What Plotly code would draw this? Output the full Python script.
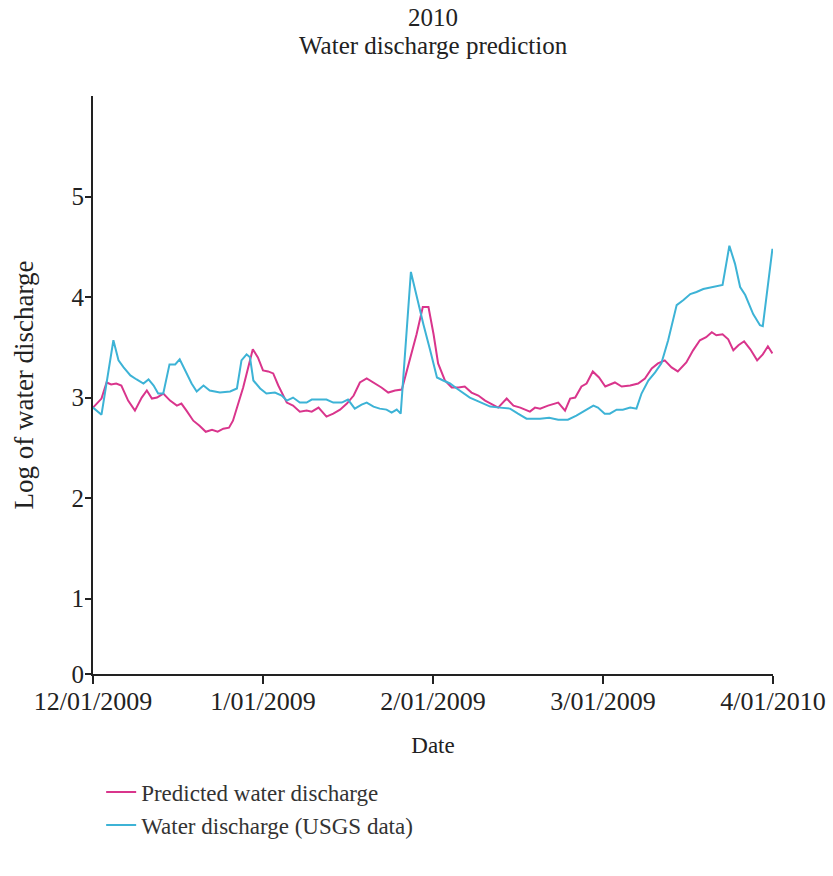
import plotly.graph_objects as go

# Day offsets from 12/01/2009 (x-axis spans 0..120)
days_pred = [0, 1.5, 2.4, 3.2, 4.1, 5.0, 6.2, 7.4, 8.6, 9.5, 10.4, 11.3, 12.4, 13.6, 14.8, 15.6, 16.5,
             17.7, 18.8, 19.9, 21.0, 22.0, 23.0, 24.0, 24.7, 26.5, 28.2, 29.1, 30.0, 30.9, 31.8, 32.7,
             34.2, 35.3, 36.5, 37.7, 38.6, 39.8, 41.2, 42.4, 43.6, 44.8, 46.0, 47.1, 48.3, 49.5, 50.9,
             52.1, 53.3, 54.5, 55.9, 57.1, 58.2, 59.2, 60.1, 60.9, 62.1, 63.3, 64.5, 65.6, 66.8, 68.0,
             69.2, 70.4, 71.5, 73.0, 74.2, 75.4, 77.1, 78.0, 78.9, 80.3, 82.1, 83.3, 84.2, 85.1, 86.2,
             87.1, 88.2, 89.3, 90.4, 92.1, 93.3, 94.8, 96.2, 97.4, 98.6, 99.7, 100.9, 102.1, 103.2,
             104.7, 105.9, 107.1, 108.2, 109.2, 110.0, 111.1, 112.1, 113.0, 113.9, 114.9, 116.0,
             117.2, 118.2, 119.1, 119.9]
pred = [2.90, 2.99, 3.15, 3.13, 3.14, 3.12, 2.97, 2.87, 3.00, 3.07, 2.99, 3.00, 3.04, 2.97, 2.92, 2.94, 2.87,
        2.77, 2.72, 2.66, 2.68, 2.66, 2.69, 2.70, 2.77, 3.10, 3.48, 3.40, 3.27, 3.26, 3.24, 3.12,
        2.95, 2.92, 2.86, 2.87, 2.86, 2.90, 2.81, 2.84, 2.88, 2.94, 3.02, 3.15, 3.19, 3.15, 3.10,
        3.05, 3.07, 3.08, 3.37, 3.63, 3.90, 3.90, 3.63, 3.34, 3.17, 3.10, 3.10, 3.11, 3.05, 3.02,
        2.97, 2.93, 2.90, 2.99, 2.92, 2.90, 2.86, 2.90, 2.89, 2.92, 2.95, 2.87, 2.99, 3.00, 3.11,
        3.14, 3.26, 3.20, 3.11, 3.15, 3.11, 3.12, 3.14, 3.19, 3.29, 3.34, 3.37, 3.30, 3.26,
        3.35, 3.47, 3.57, 3.60, 3.65, 3.62, 3.63, 3.58, 3.47, 3.52, 3.56, 3.48,
        3.37, 3.43, 3.51, 3.44]

days_usgs = [0, 1.5, 3.6, 4.5, 5.4, 6.6, 7.7, 8.9, 9.8, 10.7, 11.5, 12.4, 13.5, 14.5, 15.3, 16.5, 17.4,
             18.3, 19.5, 20.6, 22.4, 24.2, 25.4, 26.2, 27.1, 27.7, 28.3, 29.5, 30.6, 32.1, 33.3, 34.2,
             35.3, 36.5, 37.7, 38.6, 40.1, 41.2, 42.4, 43.9, 45.0, 46.2, 47.4, 48.3, 49.5, 50.6, 51.8,
             52.7, 53.6, 54.3, 56.1, 57.1, 58.3, 59.5, 60.7, 61.8, 63.0, 64.2, 65.3, 66.5, 67.7, 68.9,
             70.1, 71.8, 73.6, 75.0, 76.5, 78.9, 80.5, 82.1, 83.8, 85.3, 86.8, 88.3, 89.1, 90.3, 91.2,
             92.4, 93.5, 94.8, 95.9, 96.8, 98.0, 99.2, 100.3, 101.5, 103.0, 104.2, 105.4, 106.5, 107.7,
             109.2, 111.1, 112.3, 113.3, 114.2, 115.1, 116.5, 117.7, 118.2, 119.9]
usgs = [2.90, 2.83, 3.57, 3.37, 3.30, 3.22, 3.18, 3.14, 3.18, 3.12, 3.04, 3.04, 3.33, 3.33, 3.38, 3.24, 3.14,
        3.06, 3.12, 3.07, 3.05, 3.06, 3.09, 3.37, 3.43, 3.40, 3.17, 3.09, 3.04, 3.05, 3.02, 2.97,
        3.00, 2.95, 2.95, 2.98, 2.98, 2.98, 2.95, 2.95, 2.98, 2.89, 2.93, 2.95, 2.91, 2.89, 2.88,
        2.85, 2.88, 2.84, 4.25, 4.01, 3.73, 3.47, 3.20, 3.17, 3.14, 3.09, 3.05, 3.00, 2.97, 2.94,
        2.91, 2.90, 2.89, 2.84, 2.79, 2.79, 2.80, 2.78, 2.78, 2.82, 2.87, 2.92, 2.90, 2.84, 2.84,
        2.88, 2.88, 2.90, 2.89, 3.04, 3.17, 3.25, 3.34, 3.57, 3.92, 3.97, 4.03, 4.05, 4.08,
        4.10, 4.12, 4.51, 4.33, 4.10, 4.02, 3.83, 3.72, 3.71, 4.48]

tick_days = [0, 30, 60, 90, 120]
tick_labels = ["12/01/2009", "1/01/2009", "2/01/2009", "3/01/2009", "4/01/2010"]
y_tickvals = [0.25, 1, 2, 3, 4, 5]
y_ticklabels = ["0", "1", "2", "3", "4", "5"]
title_lines = ["2010", "Water discharge prediction"]

FONT = "Liberation Serif"
INK = "#222"

fig = go.Figure()
fig.add_trace(go.Scatter(x=days_pred, y=pred, mode="lines", name="Predicted water discharge",
                         line=dict(color="#D9358C", width=2)))
fig.add_trace(go.Scatter(x=days_usgs, y=usgs, mode="lines", name="Water discharge (USGS data)",
                         line=dict(color="#3DB3D6", width=2)))

# Title as two centred lines above the plot
for txt, ypx in zip(title_lines, [18, 45]):
    fig.add_annotation(text=txt, xref="paper", yref="paper", x=0.5, y=(674 - ypx) / 578,
                       xanchor="center", yanchor="middle", showarrow=False,
                       font=dict(family=FONT, size=25, color=INK))

fig.update_layout(
    width=833, height=876,
    margin=dict(l=93, r=60, t=96, b=202, autoexpand=False),
    paper_bgcolor="white", plot_bgcolor="white",
    font=dict(family=FONT, size=24, color=INK),
    showlegend=True,
    legend=dict(x=0.012, y=-0.167, xanchor="left", yanchor="top", bgcolor="rgba(0,0,0,0)",
                font=dict(family=FONT, size=23, color="#333"), tracegroupgap=0,
                itemwidth=30),
)
fig.update_xaxes(range=[0, 120], tickmode="array", tickvals=tick_days, ticktext=tick_labels,
                 tickfont=dict(family=FONT, size=26, color=INK), ticklabelstandoff=-5,
                 showline=True, linecolor=INK, linewidth=2, ticks="outside", ticklen=8,
                 tickcolor=INK, tickwidth=2, showgrid=False, zeroline=False,
                 title=dict(text="Date", standoff=22, font=dict(family=FONT, size=23, color=INK)))
fig.update_yaxes(range=[0.25, 6], tickmode="array", tickvals=y_tickvals, ticktext=y_ticklabels,
                 tickfont=dict(family=FONT, size=25, color=INK), ticklabelstandoff=-4,
                 showline=True, linecolor=INK, linewidth=2, ticks="outside", ticklen=6,
                 tickcolor=INK, tickwidth=2, showgrid=False, zeroline=False,
                 title=dict(text="Log of water discharge", standoff=30,
                            font=dict(family=FONT, size=27, color=INK)))

fig.write_html("out.html")
